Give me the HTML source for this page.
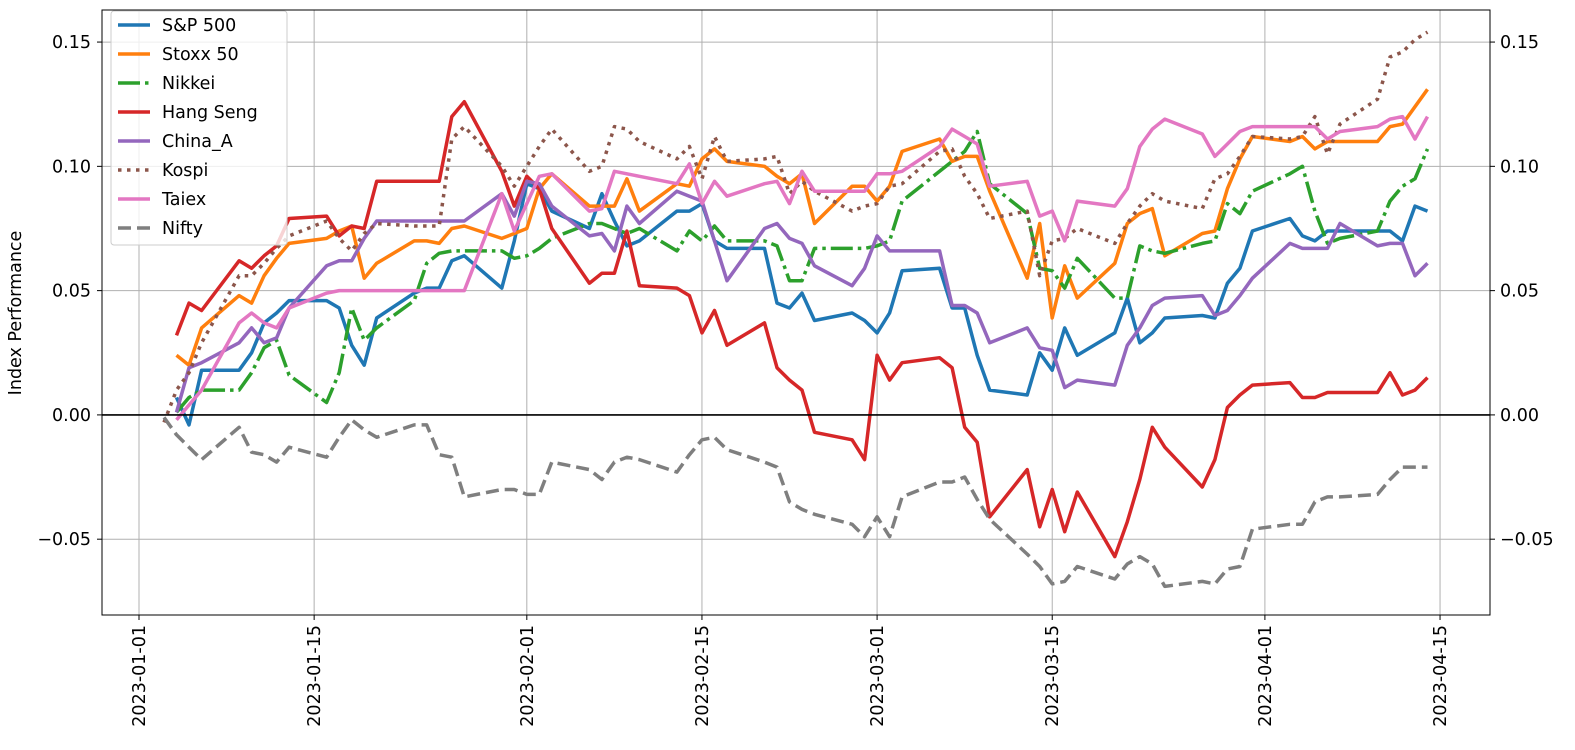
<!DOCTYPE html>
<html><head><meta charset="utf-8"><style>
html,body{margin:0;padding:0;background:#fff;}
svg{display:block;font-family:"DejaVu Sans","Liberation Sans",sans-serif;}
</style></head><body>
<svg id="chart" width="1575" height="750" viewBox="0 0 1575 750"></svg>
<script>
const dates = ["2023-01-03","2023-01-04","2023-01-05","2023-01-06","2023-01-09","2023-01-10","2023-01-11","2023-01-12","2023-01-13","2023-01-16","2023-01-17","2023-01-18","2023-01-19","2023-01-20","2023-01-23","2023-01-24","2023-01-25","2023-01-26","2023-01-27","2023-01-30","2023-01-31","2023-02-01","2023-02-02","2023-02-03","2023-02-06","2023-02-07","2023-02-08","2023-02-09","2023-02-10","2023-02-13","2023-02-14","2023-02-15","2023-02-16","2023-02-17","2023-02-20","2023-02-21","2023-02-22","2023-02-23","2023-02-24","2023-02-27","2023-02-28","2023-03-01","2023-03-02","2023-03-03","2023-03-06","2023-03-07","2023-03-08","2023-03-09","2023-03-10","2023-03-13","2023-03-14","2023-03-15","2023-03-16","2023-03-17","2023-03-20","2023-03-21","2023-03-22","2023-03-23","2023-03-24","2023-03-27","2023-03-28","2023-03-29","2023-03-30","2023-03-31","2023-04-03","2023-04-04","2023-04-05","2023-04-06","2023-04-07","2023-04-10","2023-04-11","2023-04-12","2023-04-13","2023-04-14"];
const sp500 = [null,.007,-.004,.018,.018,.025,.037,.041,.046,.046,.043,.028,.020,.039,.049,.051,.051,.062,.064,.051,.070,.093,.091,.082,.075,.089,.078,.068,.070,.082,.082,.085,.070,.067,.067,.045,.043,.049,.038,.041,.038,.033,.041,.058,.059,.043,.043,.024,.010,.008,.025,.018,.035,.024,.033,.047,.029,.033,.039,.040,.039,.053,.059,.074,.079,.072,.070,.074,.074,.074,.074,.070,.084,.082];
const stoxx50 = [null,.024,.020,.035,.048,.045,.056,.063,.069,.071,.074,.076,.055,.061,.070,.070,.069,.075,.076,.071,.073,.075,.091,.097,.084,.084,.084,.095,.082,.093,.092,.103,.107,.102,.100,.096,.093,.097,.077,.092,.092,.086,.092,.106,.111,.102,.104,.104,.090,.055,.077,.039,.060,.047,.061,.077,.081,.083,.064,.073,.074,.091,.103,.112,.110,.112,.107,.110,.110,.110,.116,.117,.124,.131];
const nikkei = [null,.001,.007,.010,.010,.017,.027,.030,.016,.005,.017,.043,.030,.035,.046,.061,.065,.066,.066,.066,.063,.064,.067,.071,.077,.077,.075,.073,.075,.066,.074,.070,.076,.070,.070,.068,.054,.054,.067,.067,.067,.068,.070,.086,.098,.102,.106,.114,.093,.081,.059,.058,.051,.063,.047,.047,.068,.066,.065,.069,.070,.085,.081,.090,.097,.100,.082,.069,.071,.074,.086,.092,.095,.107];
const hangSeng = [null,.032,.045,.042,.062,.059,.064,.068,.079,.080,.072,.076,.075,.094,.094,.094,.094,.120,.126,.098,.084,.096,.091,.075,.053,.057,.057,.074,.052,.051,.048,.033,.042,.028,.037,.019,.014,.010,-.007,-.010,-.018,.024,.014,.021,.023,.019,-.005,-.011,-.041,-.022,-.045,-.030,-.047,-.031,-.057,-.043,-.026,-.005,-.013,-.029,-.018,.003,.008,.012,.013,.007,.007,.009,.009,.009,.017,.008,.010,.015];
const chinaA = [null,.001,.019,.021,.029,.035,.029,.031,.043,.060,.062,.062,.071,.078,.078,.078,.078,.078,.078,.089,.080,.094,.093,.084,.072,.073,.066,.084,.077,.090,.088,.086,.070,.054,.075,.077,.071,.069,.060,.052,.059,.072,.066,.066,.066,.044,.044,.041,.029,.035,.027,.026,.011,.014,.012,.028,.035,.044,.047,.048,.040,.042,.048,.055,.069,.067,.067,.067,.077,.068,.069,.069,.056,.061];
const kospi = [-.003,.010,.017,.029,.056,.056,.061,.067,.072,.078,.071,.066,.073,.077,.076,.076,.076,.111,.116,.100,.092,.100,.108,.115,.098,.100,.116,.115,.110,.103,.108,.095,.112,.102,.103,.104,.089,.094,.090,.082,.084,.085,.092,.093,.106,.107,.096,.089,.079,.082,.056,.070,.071,.075,.069,.077,.084,.089,.086,.083,.095,.097,.104,.112,.111,.112,.120,.105,.117,.127,.144,.146,.151,.154];
const taiex = [null,-.002,.004,.010,.037,.041,.037,.035,.043,.049,.050,.050,.050,.050,.050,.050,.050,.050,.050,.089,.074,.085,.096,.097,.082,.083,.098,.097,.096,.093,.101,.085,.094,.088,.093,.094,.085,.098,.090,.090,.090,.097,.097,.098,.108,.115,.112,.109,.092,.094,.080,.082,.070,.086,.084,.091,.108,.115,.119,.113,.104,.109,.114,.116,.116,.116,.116,.111,.114,.116,.119,.120,.111,.120];
const nifty = [-.001,-.008,-.013,-.018,-.005,-.015,-.016,-.019,-.013,-.017,-.009,-.002,-.006,-.009,-.004,-.004,-.016,-.017,-.033,-.030,-.030,-.032,-.032,-.019,-.022,-.026,-.019,-.017,-.018,-.023,-.016,-.010,-.009,-.014,-.019,-.021,-.035,-.038,-.040,-.044,-.049,-.041,-.049,-.033,-.027,-.027,-.025,-.034,-.042,-.056,-.061,-.068,-.067,-.061,-.066,-.060,-.057,-.060,-.069,-.067,-.068,-.062,-.061,-.046,-.044,-.044,-.035,-.033,-.033,-.032,-.026,-.021,-.021,-.021];
const seriesNames = ["S&P 500","Stoxx 50","Nikkei","Hang Seng","China_A","Kospi","Taiex","Nifty"];
const yTicks = [-0.05,0,0.05,0.10,0.15];
const yTickLabels = ["\u22120.05","0.00","0.05","0.10","0.15"];
const xTicks = ["2023-01-01","2023-01-15","2023-02-01","2023-02-15","2023-03-01","2023-03-15","2023-04-01","2023-04-15"];

const L=102,R=1490,T=10,B=615;
const X0=139, PXD=12.51;
const YMIN=-0.0805, YMAX=0.1629;
const day0=Date.UTC(2023,0,1);
function dayOf(s){const p=s.split('-');return (Date.UTC(+p[0],+p[1]-1,+p[2])-day0)/86400000;}
function xs(s){return X0+dayOf(s)*PXD;}
function ys(v){return B-(v-YMIN)/(YMAX-YMIN)*(B-T);}
const NS="http://www.w3.org/2000/svg";
const svg=document.getElementById('chart');
function mk(tag,attrs,parent){const e=document.createElementNS(NS,tag);for(const k in attrs)e.setAttribute(k,attrs[k]);(parent||svg).appendChild(e);return e;}

const grid=mk('g',{});


xTicks.forEach(t=>{const x=xs(t);const l=mk('line',{x1:x,x2:x,y1:T,y2:B,stroke:'#b0b0b0','stroke-width':1},grid);

});
yTicks.forEach(v=>{const y=ys(v);const l=mk('line',{x1:L,x2:R,y1:y,y2:y,stroke:'#b0b0b0','stroke-width':1},grid);

});

const seriesData=[sp500,stoxx50,nikkei,hangSeng,chinaA,kospi,taiex,nifty];
const colors=['#1f77b4','#ff7f0e','#2ca02c','#d62728','#9467bd','#8c564b','#e377c2','#7f7f7f'];
const dashes=['none','none','22 5 3.5 5','none','none','3.5 5.5','none','13 6'];
const keys=['sp500','stoxx50','nikkei','hang-seng','china-a','kospi','taiex','nifty'];
const clip=mk('clipPath',{id:'pc'});mk('rect',{x:L,y:T,width:R-L,height:B-T},clip);
seriesData.forEach((arr,i)=>{
  let d='';let started=false;
  arr.forEach((v,j)=>{if(v===null||v===undefined)return;d+=(started?'L':'M')+xs(dates[j]).toFixed(1)+','+ys(v).toFixed(1);started=true;});
  const p=mk('path',{d:d,fill:'none',stroke:colors[i],'stroke-width':3.5,'stroke-linejoin':'round','stroke-linecap':'butt','clip-path':'url(#pc)'});
  if(dashes[i]!=='none')p.setAttribute('stroke-dasharray',dashes[i]);
  
  
});
const z=mk('line',{x1:L,x2:R,y1:ys(0),y2:ys(0),stroke:'#000','stroke-width':1.6});



const fr=mk('rect',{x:L,y:T,width:R-L,height:B-T,fill:'none',stroke:'#000','stroke-width':1});



yTicks.forEach((v,i)=>{const y=ys(v);
  mk('line',{x1:L-5,x2:L,y1:y,y2:y,stroke:'#000','stroke-width':1});
  mk('line',{x1:R,x2:R+5,y1:y,y2:y,stroke:'#000','stroke-width':1});
  const t=mk('text',{x:L-11,y:y+6,'text-anchor':'end','font-size':17.5,fill:'#000'});t.textContent=yTickLabels[i];
  
  
  const t2=mk('text',{x:R+10,y:y+6,'text-anchor':'start','font-size':17.5,fill:'#000'});t2.textContent=yTickLabels[i];
  
  
});
xTicks.forEach(s=>{const x=xs(s);
  mk('line',{x1:x,x2:x,y1:B,y2:B+5,stroke:'#000','stroke-width':1});
  const t=mk('text',{x:0,y:0,'text-anchor':'end','font-size':17.5,fill:'#000',transform:`translate(${x+6},${B+10}) rotate(-90)`});t.textContent=s;
  
  
});
const yl=mk('text',{x:0,y:0,'text-anchor':'middle','font-size':17.5,fill:'#000',transform:`translate(21,313) rotate(-90)`});yl.textContent='Index Performance';



const lg=mk('g',{});


mk('rect',{x:111,y:11,width:176,height:234,rx:3,fill:'#fff','fill-opacity':0.8,stroke:'#ccc','stroke-width':1},lg);
seriesNames.forEach((n,i)=>{const y=25+i*29;
  const g=mk('g',{},lg);
  
  
  const l=mk('line',{x1:118,x2:150,y1:y,y2:y,stroke:colors[i],'stroke-width':3.5},g);
  if(dashes[i]!=='none')l.setAttribute('stroke-dasharray',dashes[i]);
  const t=mk('text',{x:162,y:y+6,'font-size':17.5,fill:'#000'},g);t.textContent=n;
});
</script>
</body></html>
